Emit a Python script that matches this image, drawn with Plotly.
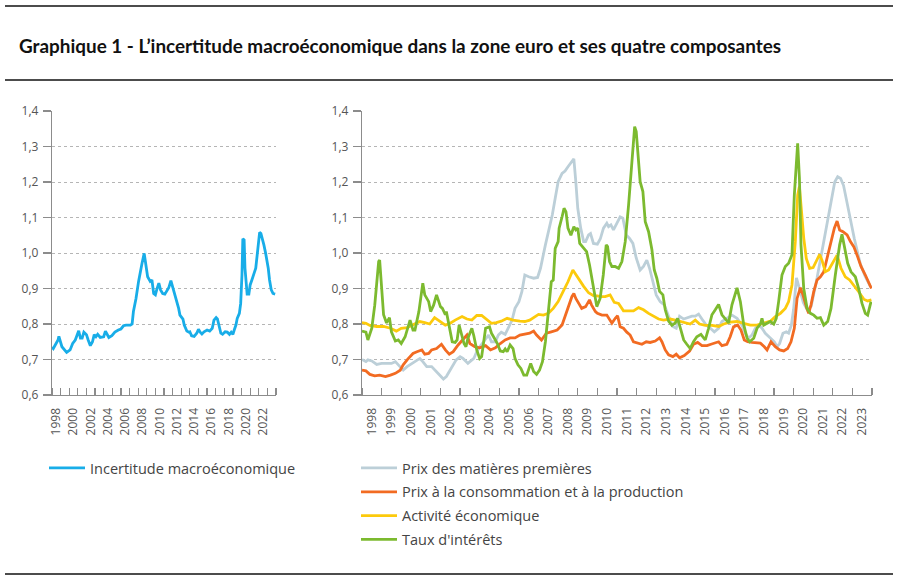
import plotly.graph_objects as go

# ---------------- data (decimal year, index value) ----------------
incertitude = [(1998.0,0.735),(1998.15,0.731),(1998.7,0.755),(1998.8,0.765),(1999.15,0.736),(1999.5,0.727),
    (1999.7,0.72),(2000.1,0.727),(2000.4,0.745),(2000.7,0.755),(2001.0,0.78),(2001.1,0.781),(2001.3,0.76),
    (2001.5,0.76),(2001.7,0.777),(2002.0,0.77),(2002.2,0.755),(2002.45,0.739),(2002.7,0.75),(2002.9,0.77),
    (2003.1,0.764),(2003.3,0.771),(2003.6,0.762),(2004.0,0.764),(2004.2,0.78),(2004.4,0.771),(2004.6,0.762),
    (2004.95,0.767),(2005.3,0.777),(2005.7,0.783),(2006.0,0.786),(2006.3,0.795),(2006.6,0.797),(2007.1,0.797),
    (2007.3,0.8),(2007.45,0.835),(2007.75,0.872),(2008.05,0.92),(2008.25,0.952),(2008.45,0.971),(2008.7,0.999),
    (2008.85,0.97),(2009.1,0.933),(2009.4,0.92),(2009.6,0.924),(2009.8,0.886),(2010.0,0.882),(2010.15,0.896),
    (2010.4,0.915),(2010.6,0.896),(2010.85,0.886),(2011.1,0.884),(2011.3,0.891),(2011.55,0.902),(2011.8,0.922),
    (2012.0,0.905),(2012.3,0.877),(2012.5,0.865),(2012.7,0.844),(2012.85,0.825),(2013.2,0.814),(2013.35,0.797),
    (2013.65,0.78),(2013.9,0.777),(2014.0,0.778),(2014.2,0.767),(2014.5,0.765),(2014.8,0.774),(2015.0,0.785),
    (2015.2,0.777),(2015.4,0.772),(2015.65,0.778),(2016.0,0.783),(2016.3,0.78),(2016.6,0.788),(2016.8,0.811),
    (2017.05,0.818),(2017.2,0.814),(2017.35,0.797),(2017.6,0.774),(2017.8,0.771),(2018.1,0.778),(2018.35,0.777),
    (2018.6,0.771),(2018.8,0.777),(2019.0,0.771),(2019.15,0.783),(2019.35,0.797),(2019.5,0.816),(2019.75,0.83),
    (2019.9,0.858),(2020.05,0.938),(2020.15,1.04),(2020.3,1.037),(2020.4,0.957),(2020.55,0.905),(2020.65,0.884),
    (2020.85,0.884),(2021.0,0.91),(2021.2,0.924),(2021.35,0.933),(2021.5,0.946),(2021.65,0.957),(2021.8,0.994),
    (2021.95,1.032),(2022.1,1.058),(2022.25,1.055),(2022.4,1.043),(2022.6,1.022),(2022.8,0.999),(2022.95,0.98),
    (2023.1,0.957),(2023.25,0.924),(2023.45,0.896),(2023.65,0.886),(2023.9,0.884)]

matieres = [(1998.0,0.70),(1998.2,0.694),(1998.3,0.699),(1998.5,0.696),(1998.75,0.686),(1999.0,0.689),(1999.25,0.689),
    (1999.5,0.689),(1999.7,0.694),(1999.95,0.68),(2000.1,0.67),(2000.3,0.68),(2000.55,0.689),(2000.7,0.694),
    (2000.95,0.703),(2001.1,0.694),(2001.3,0.68),(2001.55,0.68),(2001.8,0.666),(2002.0,0.652),(2002.15,0.645),
    (2002.3,0.652),(2002.55,0.675),(2002.8,0.699),(2003.0,0.708),(2003.15,0.703),(2003.4,0.689),(2003.7,0.703),
    (2003.85,0.722),(2004.0,0.736),(2004.2,0.75),(2004.45,0.769),(2004.6,0.75),(2004.8,0.75),(2004.95,0.769),
    (2005.1,0.777),(2005.3,0.771),(2005.45,0.788),(2005.65,0.811),(2005.8,0.844),(2006.0,0.863),(2006.15,0.891),
    (2006.3,0.938),(2006.5,0.933),(2006.75,0.929),(2006.95,0.931),(2007.1,0.957),(2007.35,1.023),(2007.5,1.06),
    (2007.7,1.107),(2007.85,1.154),(2008.0,1.201),(2008.2,1.224),(2008.35,1.231),(2008.5,1.243),(2008.7,1.257),
    (2008.8,1.265),(2008.9,1.201),(2009.0,1.126),(2009.15,1.07),(2009.3,1.032),(2009.4,1.032),(2009.55,1.051),
    (2009.65,1.055),(2009.8,1.027),(2010.0,1.025),(2010.15,1.04),(2010.31,1.07),(2010.48,1.084),(2010.57,1.074),
    (2010.69,1.079),(2010.82,1.065),(2010.99,1.084),(2011.16,1.102),(2011.3,1.098),(2011.47,1.051),(2011.64,1.041),
    (2011.81,1.027),(2011.98,0.986),(2012.18,0.952),(2012.35,0.962),(2012.52,0.98),(2012.66,0.957),(2012.83,0.919),
    (2013.0,0.882),(2013.2,0.863),(2013.41,0.854),(2013.63,0.822),(2013.85,0.793),(2014.02,0.788),(2014.19,0.822),
    (2014.4,0.814),(2014.6,0.818),(2014.82,0.822),(2014.99,0.822),(2015.16,0.828),(2015.33,0.814),(2015.55,0.797),
    (2015.76,0.788),(2015.96,0.778),(2016.18,0.788),(2016.35,0.807),(2016.6,0.816),(2016.86,0.825),(2017.12,0.816),
    (2017.37,0.797),(2017.54,0.774),(2017.71,0.76),(2017.88,0.769),(2018.05,0.788),(2018.22,0.797),(2018.39,0.788),
    (2018.56,0.774),(2018.82,0.76),(2019.02,0.75),(2019.16,0.736),(2019.29,0.745),(2019.46,0.774),(2019.63,0.778),
    (2019.75,0.774),(2019.89,0.797),(2020.0,0.84),(2020.15,0.93),(2020.3,0.90),(2020.5,0.86),(2020.7,0.84),
    (2020.9,0.85),(2021.2,0.93),(2021.4,0.99),(2021.55,1.04),(2021.75,1.10),(2021.9,1.14),(2022.1,1.20),
    (2022.25,1.215),(2022.4,1.21),(2022.55,1.19),(2022.7,1.15),(2022.9,1.09),(2023.1,1.04),(2023.4,0.97),
    (2023.65,0.935),(2023.92,0.905)]

prix = [(1998.0,0.67),(1998.2,0.668),(1998.4,0.658),(1998.65,0.654),(1998.9,0.656),(1999.2,0.652),(1999.45,0.656),
    (1999.7,0.661),(1999.95,0.67),(2000.1,0.685),(2000.3,0.699),(2000.45,0.708),(2000.6,0.717),(2000.8,0.722),
    (2001.05,0.727),(2001.2,0.715),(2001.4,0.717),(2001.55,0.727),(2001.8,0.731),(2002.05,0.743),(2002.25,0.727),
    (2002.45,0.715),(2002.65,0.722),(2002.9,0.741),(2003.15,0.755),(2003.35,0.769),(2003.5,0.745),(2003.75,0.736),
    (2004.0,0.733),(2004.3,0.739),(2004.55,0.727),(2004.8,0.733),(2005.05,0.745),(2005.3,0.755),(2005.55,0.761),
    (2005.8,0.761),(2006.05,0.769),(2006.3,0.771),(2006.55,0.774),(2006.75,0.78),(2006.9,0.769),(2007.15,0.755),
    (2007.4,0.774),(2007.65,0.778),(2007.95,0.783),(2008.2,0.797),(2008.35,0.822),(2008.5,0.844),(2008.7,0.877),
    (2008.8,0.886),(2008.9,0.872),(2009.05,0.858),(2009.2,0.844),(2009.4,0.849),(2009.6,0.868),(2009.7,0.854),
    (2009.9,0.835),(2010.0,0.83),(2010.23,0.825),(2010.48,0.825),(2010.74,0.802),(2010.91,0.816),(2011.03,0.823),
    (2011.16,0.792),(2011.33,0.788),(2011.5,0.777),(2011.67,0.769),(2011.84,0.75),(2012.05,0.746),(2012.27,0.743),
    (2012.49,0.75),(2012.69,0.748),(2012.95,0.752),(2013.17,0.761),(2013.29,0.75),(2013.46,0.727),(2013.63,0.713),
    (2013.85,0.708),(2014.02,0.715),(2014.19,0.705),(2014.43,0.711),(2014.7,0.724),(2014.9,0.743),(2015.11,0.748),
    (2015.33,0.739),(2015.59,0.739),(2015.79,0.743),(2016.01,0.746),(2016.18,0.75),(2016.35,0.739),(2016.6,0.743),
    (2016.77,0.764),(2016.94,0.792),(2017.15,0.797),(2017.32,0.783),(2017.49,0.755),(2017.66,0.75),(2017.88,0.748),
    (2018.1,0.746),(2018.31,0.746),(2018.51,0.736),(2018.65,0.727),(2018.85,0.75),(2019.07,0.736),(2019.29,0.727),
    (2019.5,0.724),(2019.7,0.731),(2019.87,0.75),(2020.04,0.788),(2020.18,0.872),(2020.35,0.902),(2020.48,0.882),
    (2020.65,0.849),(2020.77,0.83),(2020.89,0.854),(2021.03,0.891),(2021.2,0.924),(2021.37,0.933),(2021.54,0.947),
    (2021.74,0.994),(2021.91,1.032),(2022.08,1.07),(2022.22,1.09),(2022.35,1.065),(2022.52,1.06),(2022.73,1.051),
    (2022.9,1.032),(2023.07,1.018),(2023.24,0.994),(2023.44,0.962),(2023.66,0.938),(2023.83,0.919),(2023.97,0.9)]

activite = [(1998.0,0.804),(1998.2,0.802),(1998.4,0.796),(1998.75,0.793),(1999.1,0.793),(1999.45,0.788),(1999.75,0.78),
    (2000.0,0.788),(2000.3,0.79),(2000.6,0.797),(2000.95,0.807),(2001.2,0.804),(2001.45,0.8),(2001.7,0.818),
    (2002.0,0.807),(2002.25,0.797),(2002.5,0.802),(2002.75,0.811),(2003.1,0.821),(2003.35,0.814),(2003.6,0.811),
    (2003.85,0.824),(2004.1,0.824),(2004.35,0.814),(2004.6,0.802),(2004.85,0.804),(2005.1,0.808),(2005.4,0.816),
    (2005.7,0.811),(2006.05,0.808),(2006.3,0.807),(2006.55,0.811),(2006.8,0.821),(2007.0,0.827),(2007.25,0.825),
    (2007.5,0.83),(2007.75,0.844),(2008.0,0.863),(2008.25,0.891),(2008.5,0.919),(2008.75,0.952),(2008.85,0.943),
    (2009.05,0.929),(2009.3,0.906),(2009.55,0.888),(2009.8,0.88),(2010.0,0.879),(2010.14,0.877),(2010.4,0.877),
    (2010.65,0.882),(2010.86,0.861),(2011.08,0.858),(2011.33,0.837),(2011.59,0.837),(2011.84,0.837),(2012.1,0.846),
    (2012.35,0.84),(2012.61,0.83),(2012.86,0.821),(2013.12,0.814),(2013.37,0.811),(2013.71,0.814),(2013.97,0.811),
    (2014.23,0.807),(2014.48,0.802),(2014.73,0.8),(2014.99,0.811),(2015.21,0.8),(2015.5,0.796),(2015.84,0.796),
    (2016.18,0.793),(2016.44,0.8),(2016.77,0.805),(2017.12,0.807),(2017.46,0.802),(2017.8,0.797),(2018.14,0.797),
    (2018.48,0.802),(2018.82,0.808),(2019.07,0.821),(2019.33,0.83),(2019.58,0.844),(2019.75,0.863),(2019.92,0.91),
    (2020.09,1.032),(2020.21,1.163),(2020.3,1.187),(2020.38,1.135),(2020.52,1.042),(2020.65,0.985),(2020.82,0.957),
    (2021.0,0.959),(2021.16,0.978),(2021.33,0.996),(2021.45,0.98),(2021.62,0.947),(2021.79,0.952),(2022.0,0.971),
    (2022.22,0.994),(2022.42,0.957),(2022.64,0.933),(2022.86,0.924),(2023.07,0.91),(2023.32,0.891),(2023.58,0.87),
    (2023.78,0.865),(2023.97,0.868)]

taux = [(1998.0,0.78),(1998.2,0.777),(1998.3,0.755),(1998.5,0.788),(1998.65,0.853),(1998.85,0.976),(1998.9,0.98),
    (1999.0,0.891),(1999.1,0.826),(1999.25,0.803),(1999.4,0.818),(1999.5,0.778),(1999.7,0.752),(1999.85,0.755),
    (2000.0,0.745),(2000.2,0.764),(2000.35,0.797),(2000.45,0.811),(2000.6,0.783),(2000.7,0.783),(2000.9,0.835),
    (2001.05,0.905),(2001.1,0.915),(2001.2,0.882),(2001.4,0.863),(2001.5,0.835),(2001.65,0.853),(2001.8,0.882),
    (2001.9,0.868),(2002.0,0.849),(2002.1,0.844),(2002.25,0.826),(2002.3,0.835),(2002.45,0.788),(2002.6,0.75),
    (2002.75,0.748),(2002.85,0.755),(2002.95,0.797),(2003.05,0.778),(2003.2,0.745),(2003.3,0.736),(2003.4,0.76),
    (2003.6,0.788),(2003.7,0.767),(2003.85,0.727),(2004.0,0.703),(2004.1,0.708),(2004.2,0.75),(2004.3,0.788),
    (2004.5,0.792),(2004.6,0.774),(2004.8,0.755),(2004.9,0.745),(2005.05,0.724),(2005.2,0.722),(2005.3,0.73),
    (2005.4,0.722),(2005.55,0.741),(2005.7,0.731),(2005.8,0.703),(2005.95,0.685),(2006.1,0.675),(2006.25,0.656),
    (2006.4,0.656),(2006.6,0.689),(2006.75,0.666),(2006.9,0.658),(2007.05,0.67),(2007.2,0.694),(2007.35,0.75),
    (2007.5,0.844),(2007.65,0.919),(2007.75,0.924),(2007.85,1.013),(2008.0,1.032),(2008.05,1.07),(2008.2,1.102),
    (2008.3,1.126),(2008.4,1.116),(2008.5,1.07),(2008.65,1.05),(2008.8,1.074),(2008.9,1.065),(2009.0,1.07),
    (2009.1,1.027),(2009.3,1.013),(2009.45,1.004),(2009.6,0.966),(2009.75,0.919),(2009.9,0.87),(2009.97,0.849),
    (2010.14,0.872),(2010.3,0.938),(2010.45,1.023),(2010.52,1.018),(2010.62,0.976),(2010.74,0.962),(2010.9,0.962),
    (2011.08,0.957),(2011.25,0.976),(2011.42,1.032),(2011.59,1.135),(2011.76,1.257),(2011.9,1.356),(2011.98,1.342),
    (2012.07,1.267),(2012.18,1.201),(2012.32,1.173),(2012.44,1.088),(2012.61,1.06),(2012.78,1.009),(2012.9,0.952),
    (2013.03,0.929),(2013.17,0.892),(2013.34,0.882),(2013.46,0.84),(2013.63,0.808),(2013.8,0.796),(2013.97,0.803),
    (2014.09,0.816),(2014.23,0.788),(2014.4,0.755),(2014.56,0.743),(2014.73,0.731),(2014.9,0.75),(2015.07,0.764),
    (2015.28,0.771),(2015.5,0.755),(2015.67,0.788),(2015.84,0.826),(2016.01,0.84),(2016.18,0.855),(2016.35,0.826),
    (2016.52,0.814),(2016.69,0.803),(2016.86,0.854),(2017.12,0.902),(2017.29,0.863),(2017.46,0.798),(2017.63,0.76),
    (2017.76,0.75),(2017.97,0.76),(2018.14,0.788),(2018.31,0.8),(2018.39,0.816),(2018.48,0.797),(2018.65,0.802),
    (2018.82,0.807),(2018.99,0.8),(2019.12,0.816),(2019.24,0.863),(2019.41,0.938),(2019.58,0.962),(2019.75,0.971),
    (2019.92,0.995),(2020.04,1.163),(2020.21,1.309),(2020.3,1.211),(2020.38,1.023),(2020.52,0.9),(2020.69,0.844),
    (2020.86,0.83),(2021.03,0.825),(2021.2,0.816),(2021.37,0.818),(2021.54,0.797),(2021.74,0.807),(2021.91,0.844),
    (2022.13,0.938),(2022.35,1.023),(2022.47,1.053),(2022.59,1.018),(2022.76,0.971),(2022.93,0.947),(2023.15,0.933),
    (2023.32,0.9),(2023.49,0.858),(2023.66,0.83),(2023.78,0.825),(2023.95,0.863)]

y_ticks = [0.6, 0.7, 0.8, 0.9, 1.0, 1.1, 1.2, 1.3, 1.4]
left_years = list(range(1998, 2023, 2))
right_years = list(range(1998, 2024))

title_text = "Graphique 1 - L’incertitude macroéconomique dans la zone euro et ses quatre composantes"
names = ["Incertitude macroéconomique", "Prix des matières premières",
         "Prix à la consommation et à la production", "Activité économique", "Taux d'intérêts"]
colors = ["#18ade8", "#bccfd8", "#f26b22", "#fcca0c", "#7cba2f"]

# ---------------- figure ----------------
W, H = 898, 581
def px(x): return x / W
def py(y): return (H - y) / H

fig = go.Figure()

def unzip(pairs):
    return [p[0] for p in pairs], [p[1] for p in pairs]

xs, ys = unzip(incertitude)
fig.add_trace(go.Scatter(x=xs, y=ys, mode="lines", name=names[0], line=dict(color=colors[0], width=2.8),
                         xaxis="x", yaxis="y", legend="legend", legendgroup="a"))
for i, series in enumerate([matieres, prix, activite, taux]):
    xs, ys = unzip(series)
    fig.add_trace(go.Scatter(x=xs, y=ys, mode="lines", name=names[i + 1],
                             line=dict(color=colors[i + 1], width=2.8),
                             xaxis="x2", yaxis="y2", legend="legend2", legendgroup="g%d" % i))

tickfont = dict(family="Open Sans", size=12, color="#555555")
axis_col = "#8c8c8c"

common_y = dict(range=[0.6, 1.4], tickvals=y_ticks, tickformat=".1f", showgrid=True, gridcolor="#b5b5b5",
                griddash="dot", gridwidth=1, showline=True, linecolor=axis_col, linewidth=1.2,
                ticks="outside", ticklen=8, tickcolor=axis_col, tickwidth=1.2, tickfont=tickfont,
                ticklabelstandoff=2, zeroline=False,
                domain=[py(395), py(111)], fixedrange=True, automargin=False)

def xaxis_cfg(dom, years):
    return dict(range=[1998, 2024], domain=dom, tickvals=[y + 0.5 for y in years],
                ticktext=[str(y) for y in years], tickangle=-90, ticks="", showgrid=False,
                showline=True, linecolor=axis_col, linewidth=1.2, tickfont=tickfont, zeroline=False,
                ticklabelstandoff=7,
                minor=dict(tickvals=list(range(1998, 2025)), ticks="inside", ticklen=7,
                           tickcolor=axis_col, tickwidth=1.2, showgrid=False),
                fixedrange=True, automargin=False)

legend_font = dict(family="Open Sans", size=14.5, color="#444444")
fig.update_layout(
    width=W, height=H, margin=dict(l=0, r=0, t=0, b=0, autoexpand=False),
    paper_bgcolor="white", plot_bgcolor="white", separators=", ",
    xaxis=xaxis_cfg([px(52), px(276)], left_years),
    xaxis2=xaxis_cfg([px(362), px(872)], right_years),
    yaxis=dict(common_y, anchor="x"),
    yaxis2=dict(common_y, anchor="x2"),
    legend=dict(x=px(44), y=py(452), xanchor="left", yanchor="top", itemwidth=36,
                font=legend_font, bgcolor="rgba(0,0,0,0)"),
    legend2=dict(x=px(356), y=py(452), xanchor="left", yanchor="top", itemwidth=36, tracegroupgap=2,
                 font=legend_font, bgcolor="rgba(0,0,0,0)"),
    showlegend=True,
    annotations=[dict(text="<b>" + title_text + "</b>", x=px(17), y=py(45), xref="paper", yref="paper",
                      xanchor="left", yanchor="middle", showarrow=False,
                      font=dict(family="Lato", size=18.9, color="#111111"))],
    shapes=[dict(type="line", xref="paper", yref="paper", x0=px(5), x1=px(893), y0=py(y), y1=py(y),
                 line=dict(color="#111111", width=1.5)) for y in (6, 80, 574)],
)

fig.write_html("out.html", config={"displayModeBar": False, "staticPlot": True},
               post_script="document.body.style.margin='0';document.body.style.overflow='hidden';")
